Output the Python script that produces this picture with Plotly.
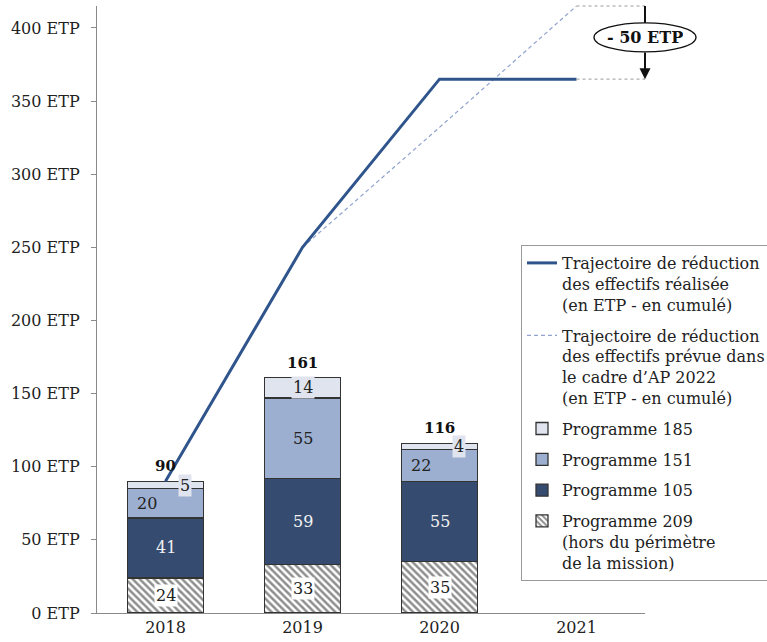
import plotly.graph_objects as go

# ---- data -----------------------------------------------------------------
years = ["2018", "2019", "2020", "2021"]
prog209 = [24, 33, 35, None]   # hors du périmètre de la mission
prog105 = [41, 59, 55, None]
prog151 = [20, 55, 22, None]
prog185 = [5, 14, 4, None]
totals = [90, 161, 116, None]
realised = [90, 250, 365, 365]        # trajectoire réalisée (cumul)
planned = [None, 250, 332, 415]       # trajectoire prévue AP 2022 (cumul)
ytick_vals = [0, 50, 100, 150, 200, 250, 300, 350, 400]
ytick_text = [f"{v} ETP" for v in ytick_vals]
gap_label = "- 50 ETP"

# ---- styling --------------------------------------------------------------
FONT = "DejaVu Serif"
C185 = "#dfe4ee"
C151 = "#9cafd0"
C105 = "#354b6f"
OUTLINE = "#333333"
LINE_REAL = "#2f558c"
LINE_PLAN = "#90a3cf"
Y_MAX = 415
BAR_W = 0.55

W, H = 767, 642
M = dict(l=97, r=122, t=6, b=29)
plot_w = W - M["l"] - M["r"]
plot_h = H - M["t"] - M["b"]

fig = go.Figure()

bar_common = dict(x=years, width=BAR_W, marker_line_color=OUTLINE,
                  marker_line_width=1.3, hoverinfo="skip")

fig.add_trace(go.Bar(y=prog209, name="Programme 209<br>(hors du périmètre<br>de la mission)",
                     marker=dict(color="white",
                                 pattern=dict(shape="\\", fgcolor="#1e1e1e", bgcolor="white",
                                              size=5, solidity=0.5)),
                     legendrank=6, legendgroup="p209", **bar_common))
fig.add_trace(go.Bar(y=prog105, name="Programme 105", marker_color=C105,
                     legendrank=5, legendgroup="p105", **bar_common))
fig.add_trace(go.Bar(y=prog151, name="Programme 151", marker_color=C151,
                     legendrank=4, legendgroup="p151", **bar_common))
fig.add_trace(go.Bar(y=prog185, name="Programme 185", marker_color=C185,
                     legendrank=3, legendgroup="p185", **bar_common))

fig.add_trace(go.Scatter(x=years, y=planned, mode="lines",
                         name="Trajectoire de réduction<br>des effectifs prévue dans<br>le cadre d’AP 2022<br>(en ETP - en cumulé)",
                         line=dict(color=LINE_PLAN, width=1.2, dash="4px,3px"),
                         legendrank=2, legendgroup="plan", hoverinfo="skip"))
fig.add_trace(go.Scatter(x=years, y=realised, mode="lines",
                         name="Trajectoire de réduction<br>des effectifs réalisée<br>(en ETP - en cumulé)",
                         line=dict(color=LINE_REAL, width=3),
                         legendrank=1, legendgroup="real", hoverinfo="skip"))

# ---- segment labels (x given as category index) ---------------------------
series = [
    (prog209, dict(color="#222", bg="white", shift=[0, 0, 0])),
    (prog105, dict(color="#f2f2f2", bg=None, shift=[0, 0, 0])),
    (prog151, dict(color="#222", bg=None, shift=[-19, 0, -19])),
    (prog185, dict(color="#222", bg=C185, shift=[19, 0, 19])),
]
base = [0, 0, 0]
for vals, st in series:
    for i in range(3):
        v = vals[i]
        fig.add_annotation(x=i, y=base[i] + v / 2, text=str(v), showarrow=False,
                           xshift=st["shift"][i],
                           font=dict(family=FONT, size=16, color=st["color"]),
                           bgcolor=st["bg"], borderpad=1)
        base[i] += v

for i in range(3):
    fig.add_annotation(x=i, y=totals[i], text=f"<b>{totals[i]}</b>", showarrow=False,
                       yshift=15, font=dict(family=FONT, size=15, color="#111"))

# ---- "- 50 ETP" gap marker at the right edge of 2021 ----------------------
x_edge = len(years) - 0.5
px_x = lambda xv: (xv + 0.5) / len(years)
px_y = lambda v: v / Y_MAX
ell_center = planned[-1] - 21.5
ell_hw, ell_hh = 51, 14.5

for level in (planned[-1], realised[-1]):
    fig.add_shape(type="line", xref="paper", yref="paper",
                  x0=px_x(len(years) - 1), x1=px_x(x_edge), y0=px_y(level), y1=px_y(level),
                  line=dict(color="#9a9a9a", width=1, dash="dot"), layer="above")

fig.add_shape(type="line", xref="paper", yref="paper",
              x0=px_x(x_edge), x1=px_x(x_edge), y0=px_y(planned[-1]),
              y1=px_y(ell_center) + ell_hh / plot_h,
              line=dict(color="#111", width=2), layer="above")
fig.add_shape(type="circle", xref="paper", yref="paper",
              x0=px_x(x_edge) - ell_hw / plot_w, x1=px_x(x_edge) + ell_hw / plot_w,
              y0=px_y(ell_center) - ell_hh / plot_h, y1=px_y(ell_center) + ell_hh / plot_h,
              line=dict(color="#111", width=1.3), fillcolor="white", layer="above")
fig.add_annotation(x=x_edge, y=realised[-1], ax=x_edge, ay=ell_center,
                   xref="x", yref="y", axref="x", ayref="y",
                   text=f"<b>{gap_label}</b>", height=2 * ell_hh, borderpad=0,
                   font=dict(family=FONT, size=16, color="#111"),
                   showarrow=True, arrowhead=2, arrowsize=1.1, arrowwidth=2,
                   arrowcolor="#111", standoff=0, startstandoff=0)

# ---- layout ---------------------------------------------------------------
fig.update_layout(
    width=W, height=H, margin=dict(**M, autoexpand=False),
    barmode="stack", plot_bgcolor="white", paper_bgcolor="white",
    font=dict(family=FONT, size=16, color="#222"),
    showlegend=True,
    legend=dict(x=(521 - M["l"]) / plot_w, y=(H - M["b"] - 245) / plot_h,
                xanchor="left", yanchor="top", bgcolor="white",
                bordercolor="#9a9a9a", borderwidth=1, valign="top",
                traceorder="grouped", font=dict(family=FONT, size=16, color="#222"),
                tracegroupgap=7, itemwidth=30),
    xaxis=dict(type="category", range=[-0.5, len(years) - 0.5], showline=True,
               linecolor="#8a8a8a", linewidth=1.2, ticks="", showgrid=False,
               tickfont=dict(family=FONT, size=16, color="#222")),
    yaxis=dict(range=[0, Y_MAX], showline=True, linecolor="#8a8a8a", linewidth=1.2,
               ticks="outside", ticklen=5, tickcolor="#8a8a8a", showgrid=False,
               zeroline=False, tickvals=ytick_vals, ticktext=ytick_text,
               ticklabelstandoff=8, tickfont=dict(family=FONT, size=16, color="#222")),
)

fig.write_html("out.html")
